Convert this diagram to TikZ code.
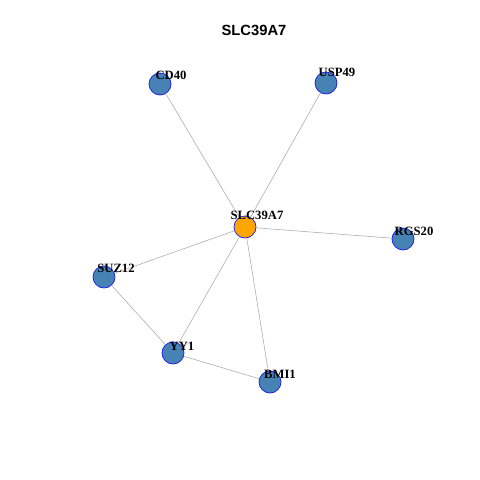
\documentclass[tikz,border=0pt]{standalone}
\usepackage{fontspec}
\setmainfont{Liberation Serif}
\newfontfamily\titlefont{Liberation Sans}
\usepackage{xcolor}
\definecolor{genecolor}{HTML}{4682B4}
\definecolor{hubcolor}{HTML}{FFA500}
\definecolor{rimcolor}{HTML}{1A1AE6}
\definecolor{edgecolor}{HTML}{AAAAAA}

\begin{document}
\begin{tikzpicture}[
    x=0.025cm, y=-0.025cm,
    gene/.style={circle, draw=rimcolor, fill=genecolor, minimum size=0.55cm, inner sep=0pt, line width=0.5pt},
    hub/.style={gene, fill=hubcolor},
    tag/.style={font=\bfseries\fontsize{9}{10}\selectfont, inner sep=0pt},
    link/.style={draw=edgecolor, line width=0.4pt},
]
\useasboundingbox (0,0) rectangle (480,480);

% Title
\node[font=\titlefont\bfseries\fontsize{10.5}{12}\selectfont] (title) at (254, 30) {SLC39A7};

% Genes
\node[hub]  (slc)   at (245, 227) {};
\node[gene] (cd40)  at (160, 84) {};
\node[gene] (usp49) at (326, 83) {};
\node[gene] (rgs20) at (403, 239) {};
\node[gene] (suz12) at (104, 277) {};
\node[gene] (yy1)   at (173, 353) {};
\node[gene] (bmi1)  at (270, 382) {};

% Edges
\draw[link] (slc) -- (cd40);
\draw[link] (slc) -- (usp49);
\draw[link] (slc) -- (rgs20);
\draw[link] (slc) -- (suz12);
\draw[link] (slc) -- (yy1);
\draw[link] (slc) -- (bmi1);
\draw[link] (suz12) -- (yy1);
\draw[link] (yy1) -- (bmi1);

% Labels
\node[tag] (slc-tag)   at (257, 215) {SLC39A7};
\node[tag] (cd40-tag)  at (171, 75) {CD40};
\node[tag] (usp49-tag) at (337, 72) {USP49};
\node[tag] (rgs20-tag) at (414, 231) {RGS20};
\node[tag] (suz12-tag) at (116, 268) {SUZ12};
\node[tag] (yy1-tag)   at (182, 346) {YY1};
\node[tag] (bmi1-tag)  at (280, 374) {BMI1};

\end{tikzpicture}
\end{document}
